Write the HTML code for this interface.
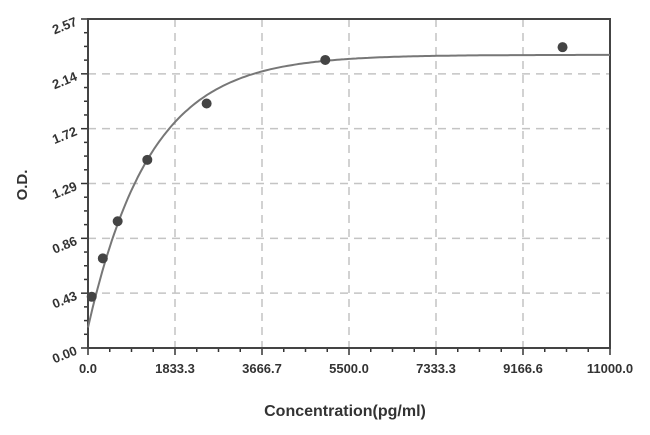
<!DOCTYPE html>
<html><head><style>body{margin:0;background:#fff}svg{display:block}text{font-family:"Liberation Sans",sans-serif;font-weight:bold;fill:#333}</style></head>
<body>
<svg id="s" width="650" height="435" xmlns="http://www.w3.org/2000/svg"></svg>
<script>
var s=document.getElementById('s'),L=88,R=610,T=19,B=348,h='';
function X(v){return L+v/11000*(R-L)}function Y(v){return B-v/2.57*(B-T)}
for(var i=1;i<6;i++){var gx=L+i*(R-L)/6;h+='<line x1="'+gx+'" y1="'+T+'" x2="'+gx+'" y2="'+B+'" stroke="#c4c4c4" stroke-width="1.5" stroke-dasharray="8,6"/>';}
for(var i=1;i<6;i++){var gy=B-i*(B-T)/6;h+='<line x1="'+L+'" y1="'+gy+'" x2="'+R+'" y2="'+gy+'" stroke="#c4c4c4" stroke-width="1.5" stroke-dasharray="8,6"/>';}
for(var i=0;i<=24;i++){var tx=L+i*(R-L)/24,l=i%4==0?7:4;h+='<line x1="'+tx+'" y1="'+B+'" x2="'+tx+'" y2="'+(B+l)+'" stroke="#333" stroke-width="1.5"/>';}
for(var i=0;i<=24;i++){var ty=B-i*(B-T)/24,l=i%4==0?7:4;h+='<line x1="'+L+'" y1="'+ty+'" x2="'+(L-l)+'" y2="'+ty+'" stroke="#333" stroke-width="1.5"/>';}
h+='<rect x="'+L+'" y="'+T+'" width="'+(R-L)+'" height="'+(B-T)+'" fill="none" stroke="#444" stroke-width="2"/>';
var xl=['0.0','1833.3','3666.7','5500.0','7333.3','9166.6','11000.0'],yl=['0.00','0.43','0.86','1.29','1.72','2.14','2.57'];
for(var i=0;i<7;i++){var tx=L+i*(R-L)/6;h+='<text x="'+tx+'" y="'+(B+25)+'" font-size="13" text-anchor="middle">'+xl[i]+'</text>';
var ty=B-i*(B-T)/6;h+='<text transform="translate('+(L-10)+','+(ty+6)+') rotate(-22)" font-size="13" text-anchor="end">'+yl[i]+'</text>';}
var p='';for(var v=0;v<=11000;v+=50){var y=2.29-2.13*Math.exp(-v/1309);p+=(v?'L':'M')+X(v).toFixed(1)+','+Y(y).toFixed(1);}
h+='<path d="'+p+'" fill="none" stroke="#777" stroke-width="2"/>';
var pts=[[78,0.40],[312,0.70],[625,0.99],[1250,1.47],[2500,1.91],[5000,2.25],[10000,2.35]];
pts.forEach(function(q){h+='<circle cx="'+X(q[0])+'" cy="'+Y(q[1])+'" r="5" fill="#444"/>';});
h+='<text transform="translate(27,185) rotate(-90)" font-size="15" text-anchor="middle">O.D.</text>';
h+='<text x="345" y="416" font-size="16" text-anchor="middle">Concentration(pg/ml)</text>';
s.innerHTML=h;
</script>
</body></html>
